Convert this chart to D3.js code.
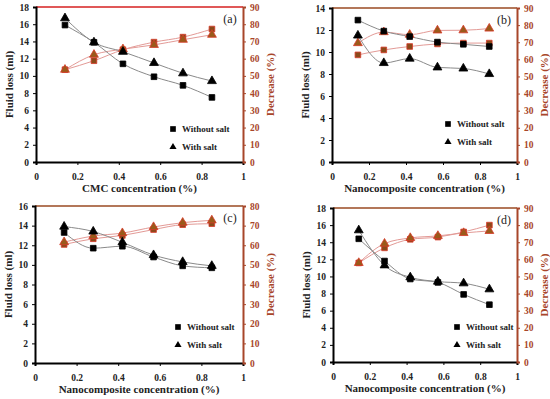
<!DOCTYPE html>
<html>
<head>
<meta charset="utf-8">
<script src="https://cdn.jsdelivr.net/npm/d3@7"></script>
<style>
  body { margin: 0; background: #fff; }
  svg { display: block; font-family: "Liberation Serif", "DejaVu Serif", serif; }
  .tick text { font-size: 9.5px; font-weight: bold; }
</style>
</head>
<body>
<svg width="550" height="399"></svg>
<script>
// общие значения по оси X (концентрация)
const concentration = [0.14, 0.28, 0.42, 0.57, 0.71, 0.85];
const xTicks = [0, 0.2, 0.4, 0.6, 0.8, 1];

// (a) CMC
const lossNoSaltA = [15.9, 13.9, 11.4, 9.9, 8.9, 7.5];
const lossSaltA = [16.7, 13.9, 12.8, 11.5, 10.3, 9.4];
const decNoSaltA = [53.6, 58.8, 65.2, 69.6, 72.5, 77.2];
const decSaltA = [53.6, 62.3, 65.5, 68, 71, 73.9];

// (b)
const lossNoSaltB = [12.9, 11.9, 11.4, 10.9, 10.7, 10.5];
const lossSaltB = [11.5, 9.0, 9.4, 8.6, 8.5, 8.0];
const decNoSaltB = [62.6, 65.5, 67.5, 69, 69.5, 69.5];
const decSaltB = [69.5, 75.9, 74.4, 76.9, 77, 78];

// (c)
const lossNoSaltC = [13.3, 11.7, 11.9, 10.8, 9.9, 9.7];
const lossSaltC = [13.9, 13.4, 12.3, 11.0, 10.3, 9.9];
const decNoSaltC = [60.4, 63.3, 65, 68, 70.5, 71];
const decSaltC = [61.6, 64.7, 66.2, 69.3, 71.5, 72.7];

// (d)
const lossNoSaltD = [14.4, 11.8, 9.7, 9.3, 7.9, 6.7];
const lossSaltD = [15.4, 11.3, 9.9, 9.4, 9.2, 8.5];
const decNoSaltD = [57.9, 66.7, 71.7, 73, 76, 80];
const decSaltD = [57.9, 69.2, 72.5, 73.7, 75.4, 76.6];

const legendLabels = ["Without salt", "With salt"];

const panels = [
  { tag: "(a)", xTitle: "CMC concentration (%)", left: 36, right: 243, top: 7, bottom: 162,
    yMax: 18, y2Max: 90, loss: [lossNoSaltA, lossSaltA], dec: [decNoSaltA, decSaltA],
    legend: [173, 129], topColor: "#d62020" },
  { tag: "(b)", xTitle: "Nanocomposite concentration (%)", left: 332, right: 517, top: 8, bottom: 162,
    yMax: 14, y2Max: 90, loss: [lossNoSaltB, lossSaltB], dec: [decNoSaltB, decSaltB],
    legend: [448, 124], topColor: "#9a4a22" },
  { tag: "(c)", xTitle: "Nanocomposite concentration (%)", left: 35, right: 243, top: 206, bottom: 363,
    yMax: 16, y2Max: 80, loss: [lossNoSaltC, lossSaltC], dec: [decNoSaltC, decSaltC],
    legend: [178, 327], topColor: "#9a4a22" },
  { tag: "(d)", xTitle: "Nanocomposite concentration (%)", left: 333, right: 517, top: 208, bottom: 362,
    yMax: 18, y2Max: 90, loss: [lossNoSaltD, lossSaltD], dec: [decNoSaltD, decSaltD],
    legend: [457, 327], topColor: "#9a4a22" }
];

const svg = d3.select("svg");
const rightColor = "#a8462a";
const serif = "Liberation Serif, DejaVu Serif, serif";
const sq = d3.symbol().type(d3.symbolSquare).size(32);
const tri = d3.symbol().type(d3.symbolTriangle).size(34);
const triSmall = d3.symbol().type(d3.symbolTriangle).size(22);

function drawPanel(p) {
  const g = svg.append("g");
  const x = d3.scaleLinear().domain([0, 1]).range([p.left, p.right]);
  const y = d3.scaleLinear().domain([0, p.yMax]).range([p.bottom, p.top]);
  const y2 = d3.scaleLinear().domain([0, p.y2Max]).range([p.bottom, p.top]);

  // верхняя граница
  g.append("line")
    .attr("x1", p.left).attr("x2", p.right)
    .attr("y1", p.top).attr("y2", p.top)
    .attr("stroke", p.topColor).attr("stroke-width", 1.5);

  // оси
  const ax = g.append("g")
    .attr("transform", `translate(0,${p.bottom})`)
    .call(d3.axisBottom(x).tickValues(xTicks).tickFormat(d => d).tickSize(3).tickPadding(8));
  const ay = g.append("g")
    .attr("transform", `translate(${p.left},0)`)
    .call(d3.axisLeft(y).ticks(p.yMax / 2).tickSize(3).tickPadding(4));
  const ay2 = g.append("g")
    .attr("transform", `translate(${p.right},0)`)
    .call(d3.axisRight(y2).ticks(p.y2Max / 10).tickSize(3).tickPadding(4));
  [ax, ay, ay2].forEach(a => a.attr("font-family", serif));
  [ax, ay].forEach(a => {
    a.select(".domain").attr("stroke", "#000").attr("stroke-width", 2);
    a.selectAll(".tick line").attr("stroke", "#000");
    a.selectAll(".tick text").attr("fill", "#222");
  });
  ay2.select(".domain").attr("stroke", rightColor).attr("stroke-width", 2);
  ay2.selectAll(".tick line").attr("stroke", rightColor);
  ay2.selectAll(".tick text").attr("fill", rightColor);

  // подписи осей
  const midY = (p.top + p.bottom) / 2;
  g.append("text")
    .attr("x", (p.left + p.right) / 2).attr("y", p.bottom + 30)
    .attr("text-anchor", "middle").attr("font-size", 11).attr("font-weight", "bold")
    .attr("fill", "#222").text(p.xTitle);
  g.append("text")
    .attr("transform", `translate(${p.left - 23},${midY}) rotate(-90)`)
    .attr("text-anchor", "middle").attr("font-size", 11).attr("font-weight", "bold")
    .attr("fill", "#222").text("Fluid loss (ml)");
  g.append("text")
    .attr("transform", `translate(${p.right + 31},${midY}) rotate(-90)`)
    .attr("text-anchor", "middle").attr("font-size", 11).attr("font-weight", "bold")
    .attr("fill", rightColor).text("Decrease (%)");
  g.append("text")
    .attr("x", p.right - 13).attr("y", p.top + 16)
    .attr("text-anchor", "middle").attr("font-size", 12)
    .attr("fill", "#222").text(p.tag);

  // линии
  const line = (sc) => d3.line()
    .x((d, i) => x(concentration[i]))
    .y(d => sc(d))
    .curve(d3.curveMonotoneX);
  p.dec.forEach(s => {
    g.append("path").datum(s).attr("d", line(y2))
      .attr("fill", "none").attr("stroke", "#e39a96").attr("stroke-width", 1);
  });
  p.loss.forEach(s => {
    g.append("path").datum(s).attr("d", line(y))
      .attr("fill", "none").attr("stroke", "#8a8a8a").attr("stroke-width", 1);
  });

  // маркеры
  const marks = (data, sc, sym, fill, stroke) => {
    g.selectAll(null).data(data).enter().append("path")
      .attr("d", sym)
      .attr("transform", (d, i) => `translate(${x(concentration[i])},${sc(d)})`)
      .attr("fill", fill).attr("stroke", stroke).attr("stroke-width", 0.8);
  };
  marks(p.dec[0], y2, sq, "#8b4a1a", "#d83a2a");
  marks(p.dec[1], y2, tri, "#9a5a1a", "#d83a2a");
  marks(p.loss[0], y, sq, "#000", "#000");
  marks(p.loss[1], y, tri, "#000", "#000");

  // легенда
  const [lx, ly] = p.legend;
  g.append("path").attr("d", sq).attr("transform", `translate(${lx},${ly})`).attr("fill", "#000");
  g.append("path").attr("d", triSmall).attr("transform", `translate(${lx},${ly + 18})`).attr("fill", "#000");
  legendLabels.forEach((t, i) => {
    g.append("text")
      .attr("x", lx + 9).attr("y", ly + 3 + i * 18)
      .attr("font-size", 9).attr("font-weight", "bold").attr("fill", "#222").text(t);
  });
}

panels.forEach(drawPanel);
</script>
</body>
</html>
